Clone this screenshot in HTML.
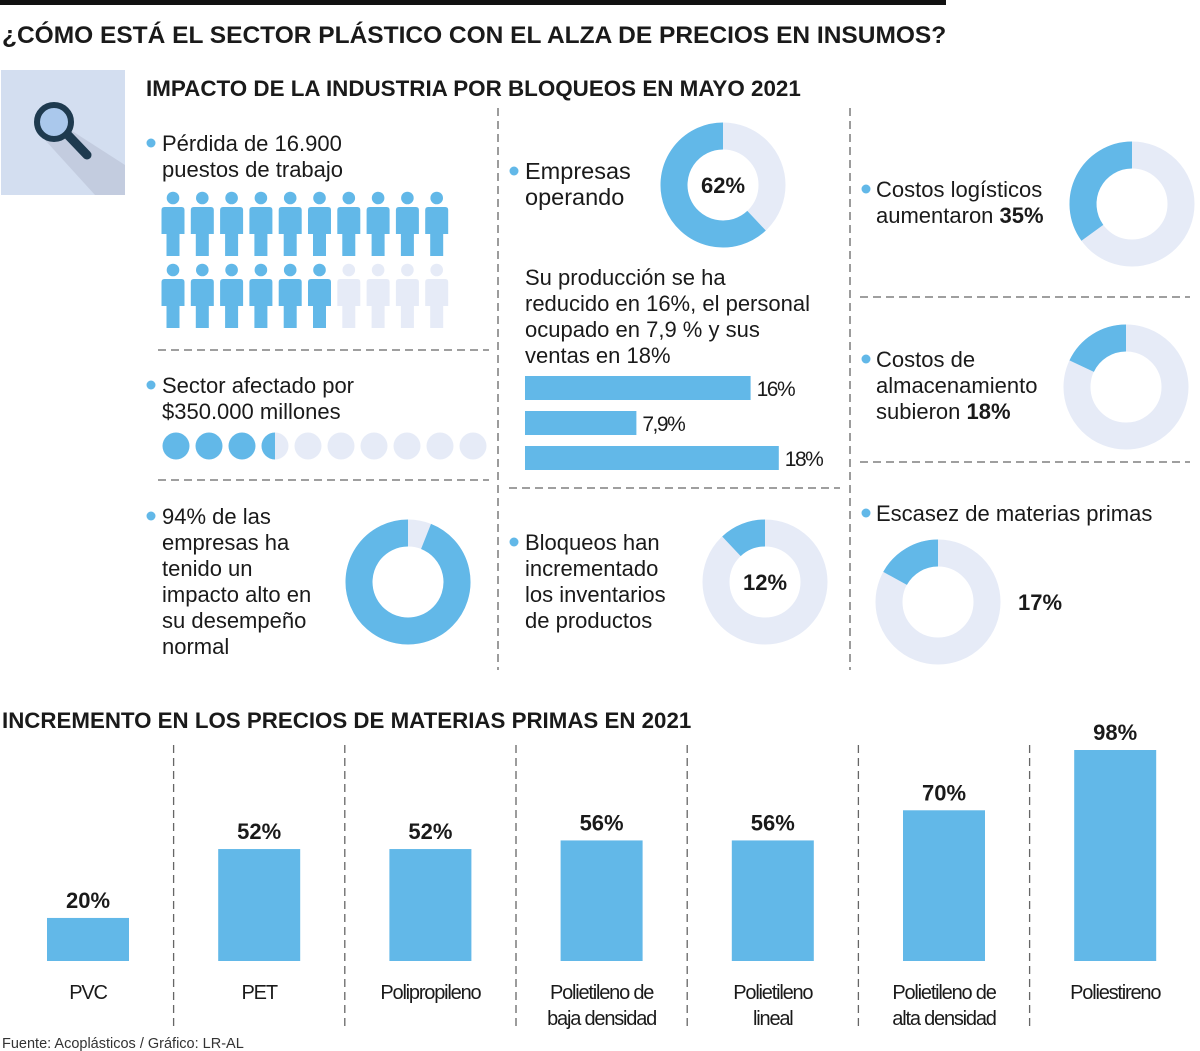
<!DOCTYPE html>
<html><head><meta charset="utf-8"><style>
html,body{margin:0;padding:0;background:#fff}
svg{display:block}
text{font-family:"Liberation Sans",sans-serif;fill:#1a1a1a}
.t{font-size:22px}
.b{font-weight:bold}
</style></head><body>
<svg id="s" width="1200" height="1051" viewBox="0 0 1200 1051" xmlns="http://www.w3.org/2000/svg">
<rect x="0" y="0" width="946" height="5" fill="#111"/>
<text x="2" y="43" class="b" style="font-size:24.5px">¿CÓMO ESTÁ EL SECTOR PLÁSTICO CON EL ALZA DE PRECIOS EN INSUMOS?</text>
<g>
<rect x="1" y="70" width="124" height="125" fill="#d3def0"/>
<path d="M55 120 L125 165 L125 195 L95 195 L45 140 Z" fill="#c3ccdf"/>
<line x1="66" y1="133" x2="87" y2="155" stroke="#1e3a4f" stroke-width="9" stroke-linecap="round"/>
<circle cx="54" cy="122" r="17" fill="#aac8ec" stroke="#1e3a4f" stroke-width="6"/>
</g>
<text x="146" y="96" class="b" style="font-size:22.4px">IMPACTO DE LA INDUSTRIA POR BLOQUEOS EN MAYO 2021</text>
<g stroke="#666" stroke-width="1.3" stroke-dasharray="8,5" fill="none">
<line x1="498" y1="108" x2="498" y2="670"/><line x1="850" y1="108" x2="850" y2="670"/>
<line x1="158" y1="350" x2="489" y2="350"/><line x1="158" y1="480" x2="489" y2="480"/>
<line x1="509" y1="488" x2="840" y2="488"/><line x1="860" y1="297" x2="1190" y2="297"/>
<line x1="860" y1="462" x2="1190" y2="462"/>
</g>
<g fill="#62b8e8">
<circle cx="151" cy="143" r="4.5"/><circle cx="151" cy="385" r="4.5"/><circle cx="151" cy="516" r="4.5"/>
<circle cx="514" cy="171" r="4.5"/><circle cx="514" cy="542" r="4.5"/>
<circle cx="866" cy="189" r="4.5"/><circle cx="866" cy="359" r="4.5"/><circle cx="866" cy="513" r="4.5"/>
</g>
<text class="t"><tspan x="162" y="151">Pérdida de 16.900</tspan><tspan x="162" y="177">puestos de trabajo</tspan></text>
<text class="t"><tspan x="162" y="393">Sector afectado por</tspan><tspan x="162" y="419">$350.000 millones</tspan></text>
<text class="t"><tspan x="162" y="524">94% de las</tspan><tspan x="162" y="550">empresas ha</tspan><tspan x="162" y="576">tenido un</tspan><tspan x="162" y="602">impacto alto en</tspan><tspan x="162" y="628">su desempeño</tspan><tspan x="162" y="654">normal</tspan></text>
<text class="t" style="font-size:23.5px"><tspan x="525" y="179">Empresas</tspan><tspan x="525" y="205">operando</tspan></text>
<text class="t"><tspan x="525" y="285">Su producción se ha</tspan><tspan x="525" y="311">reducido en 16%, el personal</tspan><tspan x="525" y="337">ocupado en 7,9 % y sus</tspan><tspan x="525" y="363">ventas en 18%</tspan></text>
<text class="t"><tspan x="525" y="550">Bloqueos han</tspan><tspan x="525" y="576">incrementado</tspan><tspan x="525" y="602">los inventarios</tspan><tspan x="525" y="628">de productos</tspan></text>
<text class="t"><tspan x="876" y="197">Costos logísticos</tspan><tspan x="876" y="223">aumentaron <tspan class="b">35%</tspan></tspan></text>
<text class="t"><tspan x="876" y="367">Costos de</tspan><tspan x="876" y="393">almacenamiento</tspan><tspan x="876" y="419">subieron <tspan class="b">18%</tspan></tspan></text>
<text class="t"><tspan x="876" y="521">Escasez de materias primas</tspan></text>
<g id="people"></g>
<g id="coins"></g>
<g id="donuts"></g>
<g id="hbars"></g>
<text x="2" y="728" class="b" style="font-size:22.3px">INCREMENTO EN LOS PRECIOS DE MATERIAS PRIMAS EN 2021</text>
<g id="vbars"></g>
<text x="2" y="1048" style="font-size:14.5px;fill:#333">Fuente: Acoplásticos / Gráfico: LR-AL</text>
</svg>
<script>
const NS="http://www.w3.org/2000/svg";
const BLUE="#62b8e8", LIGHT="#e6ebf7";
function mk(tag,attrs,parent,txt){const e=document.createElementNS(NS,tag);for(const k in attrs)e.setAttribute(k,attrs[k]);if(txt!==undefined)e.textContent=txt;parent.appendChild(e);return e;}

// data
const peopleTotal=20, peopleFilled=16;
const coinsTotal=10, coinsFilled=3.5;
const donutLabels=["empresas-operando","impacto-alto","bloqueos-inventarios","costos-logisticos","costos-almacenamiento","escasez-materias"];
const donutValues=[62,94,12,35,18,17];
const donutPrinted=["62%","","12%","","","17%"];
const hbarLabels=["16%","7,9%","18%"];
const hbarValues=[16,7.9,18];
const categories=["PVC","PET","Polipropileno","Polietileno de|baja densidad","Polietileno|lineal","Polietileno de|alta densidad","Poliestireno"];
const priceValues=[20,52,52,56,56,70,98];
const priceLabels=["20%","52%","52%","56%","56%","70%","98%"];

// people
const pg=document.getElementById('people');
for(let i=0;i<peopleTotal;i++){
  const col=i%10,row=Math.floor(i/10);
  const cx=173+col*29.3, top=191+row*72;
  const fill=i<peopleFilled?BLUE:LIGHT;
  const g=mk('g',{fill:fill},pg);
  
  
  mk('circle',{cx:cx,cy:top+7,r:6.3},g);
  mk('path',{d:`M${cx-11.5} ${top+19} q0 -3 3 -3 h17 q3 0 3 3 v24 h-5 v22 h-13 v-22 h-5 z`},g);
}
// coins
const cg=document.getElementById('coins');
for(let i=0;i<coinsTotal;i++){
  const cx=176+i*33, cy=446, r=13.5;
  const c=mk('circle',{cx:cx,cy:cy,r:r,fill:i<Math.floor(coinsFilled)?BLUE:LIGHT},cg);
  
  
  if(i===Math.floor(coinsFilled)&&coinsFilled%1>0){
    const h=mk('path',{d:`M${cx} ${cy-r} A${r} ${r} 0 0 0 ${cx} ${cy+r} Z`,fill:BLUE},cg);
    
    
  }
}
// donuts
const dpos=[[723,185],[408,582],[765,582],[1132,204],[1126,387],[938,602]];
const dg=document.getElementById('donuts');
const R=49, W=27;
donutValues.forEach((v,i)=>{
  const [cx,cy]=dpos[i];
  const g=mk('g',{},dg);
  
  
  mk('circle',{cx:cx,cy:cy,r:R,fill:'none',stroke:LIGHT,'stroke-width':W},g);
  const a=-Math.PI/2-2*Math.PI*v/100;
  const x2=cx+R*Math.cos(a), y2=cy+R*Math.sin(a);
  const large=v>50?1:0;
  const p=mk('path',{d:`M${cx} ${cy-R} A${R} ${R} 0 ${large} 0 ${x2} ${y2}`,fill:'none',stroke:BLUE,'stroke-width':W},g);
  
  
  if(donutPrinted[i]){
    const tx = i===5 ? cx+102 : cx;
    const t=mk('text',{x:tx,y:cy+8,'text-anchor':'middle',class:'b',style:'font-size:22px'},g,donutPrinted[i]);
    
    
  }
});
// horizontal bars
const hg=document.getElementById('hbars');
const hx=(v)=>v*14.1;
const hy=[376,411,446];
hbarValues.forEach((v,i)=>{
  const r=mk('rect',{x:525,y:hy[i],width:hx(v),height:24,fill:BLUE},hg);
  
  
  const t=mk('text',{x:525+hx(v)+6,y:hy[i]+20,style:'font-size:21px;letter-spacing:-1.5px'},hg,hbarLabels[i]);
  
  
});
// vertical bars
const vg=document.getElementById('vbars');
const base=961, yScale=v=>v*2.153;
const xc=i=>88+i*171.2;
for(let i=1;i<categories.length;i++){
  const l=mk('line',{x1:xc(i)-85.6,y1:745,x2:xc(i)-85.6,y2:1028,stroke:'#666','stroke-width':1.3,'stroke-dasharray':'8,5'},vg);
  
  
}
priceValues.forEach((v,i)=>{
  const h=yScale(v);
  const r=mk('rect',{x:xc(i)-41,y:base-h,width:82,height:h,fill:BLUE},vg);
  
  
  const t=mk('text',{x:xc(i),y:base-h-10,'text-anchor':'middle',class:'b',style:'font-size:22px'},vg,priceLabels[i]);
  
  
  const lines=categories[i].split('|');
  lines.forEach((ln,j)=>{
    const c=mk('text',{x:xc(i),y:999+j*26,'text-anchor':'middle',style:'font-size:20px;letter-spacing:-1.2px'},vg,ln);
    
    
  });
});
</script>
</body></html>
